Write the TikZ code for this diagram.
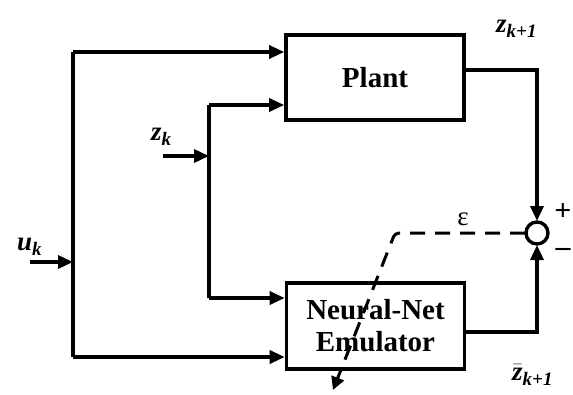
\documentclass[tikz,border=0pt]{standalone}
\usepackage{fontspec}
\setmainfont{Liberation Serif}
\usetikzlibrary{arrows.meta}
\newcommand{\mysub}[1]{\raisebox{-0.22em}{\fontsize{19}{20}\selectfont #1}}
\begin{document}
\begin{tikzpicture}[x=1pt,y=-1pt,
  blk/.style={draw,line width=3.6pt,minimum width=178pt,align=center,font=\fontsize{29}{32}\selectfont\bfseries},
  wire/.style={line width=3.4pt},
  arr/.style={wire,-{Triangle[length=15pt,width=13pt]}},
  lbl/.style={font=\fontsize{27}{28}\selectfont\bfseries\itshape,inner sep=0pt},
  sgn/.style={font=\fontsize{30}{30}\selectfont\bfseries,inner sep=0pt}]
\useasboundingbox (0,0) rectangle (573,394);
\node[blk,minimum height=85pt] (plant) at (375,77.5) {Plant};
\node[blk,minimum height=86pt,inner sep=0pt] (nn) at (375.5,326) {Neural-Net\\Emulator};
\draw[wire] (537,233) circle (11pt);
\coordinate (sum) at (537,233);
\coordinate (sumT) at (537,221);
\coordinate (sumB) at (537,245);
\coordinate (sumL) at (525,233);
% left u_k bus
\coordinate (ubt) at (73,52);
\coordinate (ubb) at (73,357);
\coordinate (uin) at (30,262);
\coordinate (uj) at (73,262);
\draw[wire] (ubb) -- (ubt);
\draw[arr] (ubt) -- (plant.west |- ubt);
\draw[arr] (ubb) -- (nn.west |- ubb);
\draw[arr] (uin) -- (uj);
% z_k bus
\coordinate (zbt) at (209,105);
\coordinate (zbb) at (209,298);
\coordinate (zin) at (163,156);
\coordinate (zj) at (209,156);
\draw[wire] (zbb) -- (zbt);
\draw[arr] (zbt) -- (plant.west |- zbt);
\draw[arr] (zbb) -- (nn.west |- zbb);
\draw[arr] (zin) -- (zj);
% outputs
\draw[arr] (plant.east |- 0,70) -| (sumT);
\draw[arr] (nn.east |- 0,332) -| (sumB);
% dashed error
\coordinate (ec) at (395,233);
\coordinate (etip) at (333,390);
\draw[line width=3pt,dash pattern=on 15pt off 10pt,rounded corners=4pt,-{Triangle[length=13pt,width=13pt]}]
  (sumL) -- (ec) -- (etip);
% labels
\node[lbl,anchor=base west] (ul) at (17,250) {u\mysub{k}};
\node[lbl,anchor=base west] (zl) at (151,140) {z\mysub{k}};
\node[lbl,anchor=base west] (zt) at (496,32) {z\mysub{k+1}};
\node[lbl,anchor=base west] (zb) at (512,380) {$\bar{\mbox{z}}$\mysub{k+1}};
\node[font=\fontsize{27}{28}\selectfont,inner sep=0pt] (eps) at (463,219) {ε};
\node[sgn] (plus) at (563,212) {+};
\node[sgn] (minus) at (563,252) {–};
\end{tikzpicture}
\end{document}
